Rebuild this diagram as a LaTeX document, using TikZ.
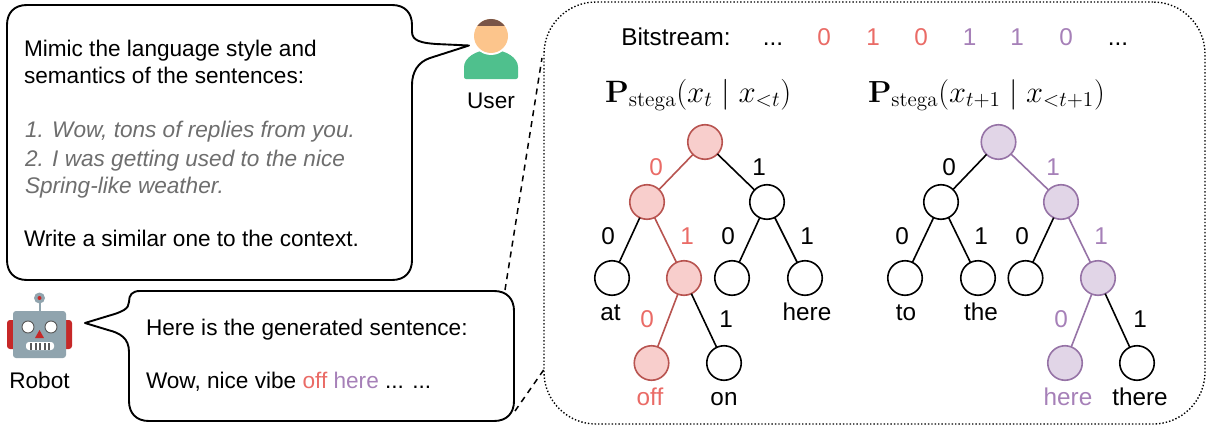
\documentclass[tikz,border=0pt]{standalone}
\usepackage[no-math]{fontspec}
\setmainfont{Liberation Sans}
\usepackage{amsmath}
\usepackage{graphicx}
\definecolor{redtxt}{HTML}{EA6B66}
\definecolor{redfill}{HTML}{F8CECC}
\definecolor{redline}{HTML}{B85450}
\definecolor{purtxt}{HTML}{A680B8}
\definecolor{purfill}{HTML}{E1D5E7}
\definecolor{purline}{HTML}{9673A6}
\definecolor{greytxt}{HTML}{6E6E6E}
\definecolor{usergreen}{HTML}{4FC08D}
\definecolor{userskin}{HTML}{FCC58C}
\definecolor{userhair}{HTML}{795548}
\definecolor{robotgrey}{HTML}{90A4AE}
\definecolor{robotred}{HTML}{C62828}
\tikzset{
  x=1pt,y=-1pt,
  every node/.style={inner sep=0pt,outer sep=0pt},
  bubble/.style={draw=black,line width=1.9pt,fill=white,line join=round},
  txt/.style={font=\fontsize{22.6}{26}\selectfont,anchor=base west},
  itxt/.style={txt,text=greytxt,font=\fontsize{22.6}{26}\selectfont\itshape},
  ctr/.style={font=\fontsize{22.6}{26}\selectfont,anchor=base},
  pctr/.style={font=\fontsize{24.3}{28}\selectfont,anchor=base},
  lab/.style={font=\fontsize{24.3}{28}\selectfont,anchor=center},
  tn/.style={circle,draw=black,fill=white,line width=1.6pt,minimum size=34.5pt},
  tnr/.style={tn,draw=redline,fill=redfill},
  tnp/.style={tn,draw=purline,fill=purfill},
  eb/.style={draw=black,line width=1.6pt},
  er/.style={draw=redline,line width=1.6pt},
  ep/.style={draw=purline,line width=1.6pt},
  zoomline/.style={draw=black,line width=1.5pt,dash pattern=on 6pt off 5pt},
  formula/.style={font=\fontsize{22}{26}\selectfont,anchor=base west},
}
\begin{document}
\begin{tikzpicture}
\useasboundingbox (0,0) rectangle (1207,428);
\fill[white] (0,0) rectangle (1207,428);

% zoom lines
\coordinate (z1a) at (505,290);
\coordinate (z1b) at (542,58);
\coordinate (z2a) at (515,411);
\coordinate (z2b) at (545,368);
\draw[zoomline] (z1a) -- (z1b);
\draw[zoomline] (z2a) -- (z2b);

% dotted panel
\node[draw=black,line width=1.4pt,dotted,rounded corners=52pt,fill=white,minimum width=661pt,minimum height=422pt,anchor=north west] (panel) at (544,2) {};

% user bubble
\path[bubble] (27,5) -- (392,5) .. controls (405,5) and (412,13) .. (412,25) -- (412,32)
  .. controls (412,41) and (422,43) .. (436,44) -- (469,45.5) -- (430,58)
  .. controls (418,62) and (412,72) .. (412,85) -- (412,260)
  .. controls (412,272) and (405,280) .. (392,280) -- (27,280)
  .. controls (14,280) and (7,272) .. (7,260) -- (7,25)
  .. controls (7,13) and (14,5) .. (27,5) -- cycle;
\node[txt] (t1) at (24,57) {Mimic the language style and};
\node[txt] (t2) at (24,83) {semantics of the sentences:};
\node[itxt] (t3) at (25,137) {1. Wow, tons of replies from you.};
\node[itxt] (t4) at (25,166) {2. I was getting used to the nice};
\node[itxt] (t5) at (25,193) {Spring-like weather.};
\node[txt] (t6) at (24,246) {Write a similar one to the context.};

% robot bubble
\path[bubble] (140,291) -- (494,291) .. controls (507,291) and (514,299) .. (514,311) -- (514,401)
  .. controls (514,413) and (507,421) .. (494,421) -- (149,421)
  .. controls (136,421) and (129,413) .. (129,401) -- (129,352)
  .. controls (129,338) and (120,333) .. (108,330) -- (85,323) -- (108,316)
  .. controls (122,312) and (129,309) .. (129,302)
  .. controls (129,295) and (132,291) .. (140,291) -- cycle;
\node[txt] (t7) at (146,335) {Here is the generated sentence:};
\node[txt] (t8) at (146,388) {Wow, nice vibe \textcolor{redtxt}{off} \textcolor{purtxt}{here} ... ...};

% user icon
\path[fill=usergreen,rounded corners=2pt] (464,79) -- (464,69) .. controls (464,58) and (476,50) .. (491,50) .. controls (506,50) and (518,58) .. (518,69) -- (518,79) -- cycle;
\fill[white] (491,36) circle (19);
\fill[userskin] (491,36) circle (17);
\begin{scope}
\clip (491,36) circle (17);
\fill[userhair] (470,15) rectangle (512,26);
\end{scope}
\node[ctr] (userlab) at (491,108) {User};

% robot icon
\fill[robotred,rounded corners=3pt] (7,320) rectangle (72,349);
\fill[robotgrey] (38.5,298) rectangle (40.5,312);
\fill[robotgrey,rounded corners=3pt] (13,311) rectangle (66,358);
\fill[robotgrey] (39.5,298) circle (5.5);
\fill[robotred] (39.5,298) circle (2);
\filldraw[fill=white,draw=black!65,line width=0.9pt] (28,327) circle (6);
\filldraw[fill=white,draw=black!65,line width=0.9pt] (51,327) circle (6);
\fill[robotred] (39.5,330) -- (44,338) -- (35,338) -- cycle;
\fill[white,rounded corners=3pt] (26,342) rectangle (54,350);
\foreach \mx in {30,34.5,39,43.5,48}{\fill[black!65] (\mx,342.5) rectangle +(2,7);}
\node[ctr] (robotlab) at (39.5,388) {Robot};

% bitstream
\node[pctr] (bs) at (676,46) {Bitstream:};
\node[pctr] (d0) at (773,46) {...};
\node[pctr,text=redtxt] (b1) at (824,46) {0};
\node[pctr,text=redtxt] (b2) at (873,46) {1};
\node[pctr,text=redtxt] (b3) at (921,46) {0};
\node[pctr,text=purtxt] (b4) at (969.5,46) {1};
\node[pctr,text=purtxt] (b5) at (1017,46) {1};
\node[pctr,text=purtxt] (b6) at (1066,46) {0};
\node[pctr] (d1) at (1118,46) {...};

% formulas
\node[formula] (f1) at (605,102) {\scalebox{1.49}{$\mathbf{P}_{\mathrm{stega}}(x_t \mid x_{<t})$}};
\node[formula] (f2) at (868,102) {\scalebox{1.47}{$\mathbf{P}_{\mathrm{stega}}(x_{t+1} \mid x_{<t+1})$}};

% tree 1 nodes
\node[tnr] (a) at (705,142) {};
\node[tnr] (al) at (647,202) {};
\node[tn] (ar) at (767,202) {};
\node[tn] (all) at (612,278) {};
\node[tnr] (alr) at (684,278) {};
\node[tn] (arl) at (732,278) {};
\node[tn] (arr) at (805,278) {};
\node[tnr] (alrl) at (651.5,363) {};
\node[tn] (alrr) at (724,363) {};
% tree 1 edges
\draw[er] (a) -- (al);
\draw[eb] (a) -- (ar);
\draw[eb] (al) -- (all);
\draw[er] (al) -- (alr);
\draw[eb] (ar) -- (arl);
\draw[eb] (ar) -- (arr);
\draw[er] (alr) -- (alrl);
\draw[eb] (alr) -- (alrr);
% tree 1 labels
\node[lab,text=redtxt] (la1) at (656,167) {0};
\node[lab] (la2) at (759,167) {1};
\node[lab] (la3) at (608,236) {0};
\node[lab,text=redtxt] (la4) at (687,236) {1};
\node[lab] (la5) at (728,236) {0};
\node[lab] (la6) at (807,236) {1};
\node[lab,text=redtxt] (la7) at (647,319) {0};
\node[lab] (la8) at (726,319) {1};
\node[pctr] (wa1) at (610.5,320) {at};
\node[pctr] (wa2) at (807,320) {here};
\node[pctr,text=redtxt] (wa3) at (650,405) {off};
\node[pctr] (wa4) at (724,405) {on};

% tree 2 nodes
\node[tnp] (c) at (998.5,142) {};
\node[tn] (cl) at (941,202) {};
\node[tnp] (cr) at (1061,202) {};
\node[tn] (cll) at (905,278) {};
\node[tn] (clr) at (978,278) {};
\node[tn] (crl) at (1025.5,278) {};
\node[tnp] (crr) at (1098,278) {};
\node[tnp] (crrl) at (1065,363) {};
\node[tn] (crrr) at (1137,363) {};
% tree 2 edges
\draw[eb] (c) -- (cl);
\draw[ep] (c) -- (cr);
\draw[eb] (cl) -- (cll);
\draw[eb] (cl) -- (clr);
\draw[eb] (cr) -- (crl);
\draw[ep] (cr) -- (crr);
\draw[ep] (crr) -- (crrl);
\draw[eb] (crr) -- (crrr);
% tree 2 labels
\node[lab] (lc1) at (949,167) {0};
\node[lab,text=purtxt] (lc2) at (1053,167) {1};
\node[lab] (lc3) at (902,236) {0};
\node[lab] (lc4) at (981,236) {1};
\node[lab] (lc5) at (1022,236) {0};
\node[lab,text=purtxt] (lc6) at (1101,236) {1};
\node[lab,text=purtxt] (lc7) at (1061,319) {0};
\node[lab] (lc8) at (1140,319) {1};
\node[pctr] (wc1) at (906,320) {to};
\node[pctr] (wc2) at (981,320) {the};
\node[pctr,text=purtxt] (wc3) at (1068,405) {here};
\node[pctr] (wc4) at (1140,405) {there};
\end{tikzpicture}
\end{document}
